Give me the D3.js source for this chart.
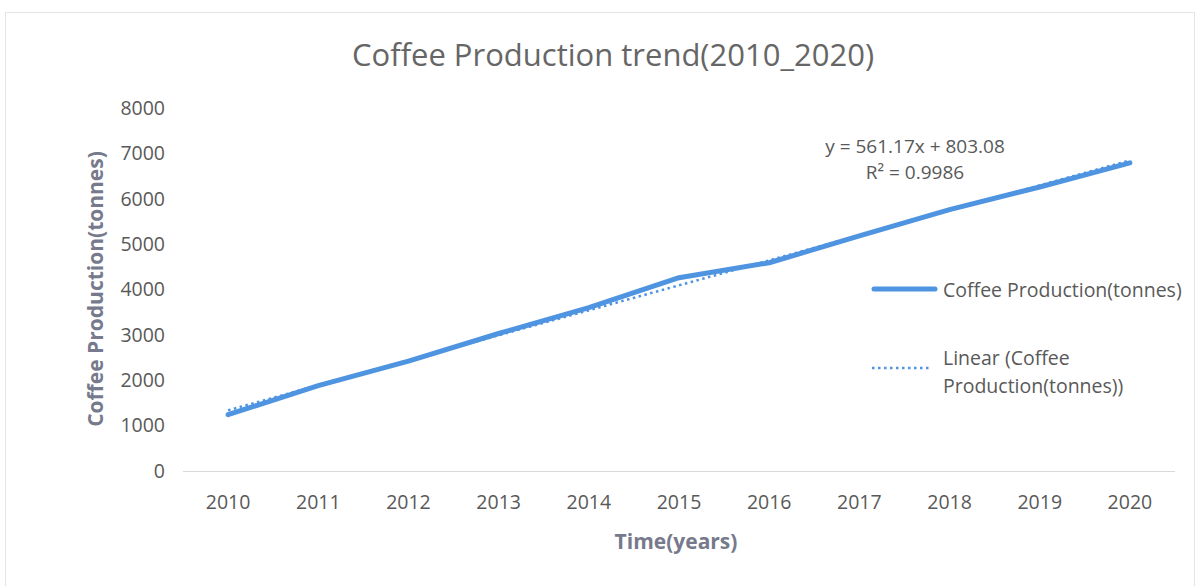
<!DOCTYPE html>
<meta charset="utf-8">
<style>
    body {
        margin: 0;
        background: #fff;
    }

    text {
        font-family: "Open Sans", "Noto Sans", sans-serif;
        fill: #595959;
    }

    .axis text {
        font-size: 19.5px;
    }

    .axis path,
    .axis line {
        fill: none;
        stroke: #d9d9d9;
        shape-rendering: crispEdges;
    }

    .axisTitle {
        font-weight: bold;
        font-size: 21px;
        fill: #767a8c;
    }
</style>
<svg class="chart"></svg>
<script src="https://cdn.jsdelivr.net/npm/d3@7"></script>
<script>

    // values
    const years = ["2010", "2011", "2012", "2013", "2014", "2015", "2016", "2017", "2018", "2019", "2020"];
    const production = [1240, 1880, 2420, 3030, 3600, 4260, 4590, 5180, 5760, 6260, 6790];
    const yTicks = [0, 1000, 2000, 3000, 4000, 5000, 6000, 7000, 8000];
    const equationText = "y = 561.17x + 803.08";
    const r2Text = "R² = 0.9986";
    const seriesName = "Coffee Production(tonnes)";
    const trendName = ["Linear (Coffee", "Production(tonnes))"];

    const W = 1200, H = 586;
    const margin = {top: 108, right: 25, bottom: 115, left: 183},
        width = W - margin.left - margin.right,
        height = H - margin.top - margin.bottom;

    const blue = "#4f94e0";

    const svg = d3.select(".chart")
        .attr("width", W)
        .attr("height", H);

    // chart area border (faint, as on the scan)
    svg.append("rect")
        .attr("x", 5.5).attr("y", 12.5)
        .attr("width", W - 11).attr("height", H - 8)
        .attr("fill", "none")
        .attr("stroke", "#e4e4e4");

    const chart = svg.append("g")
        .attr("transform", "translate(" + margin.left + "," + margin.top + ")");

    let x = d3.scaleBand()
        .domain(years)
        .range([0, width]);

    let y = d3.scaleLinear()
        .domain([0, 8000])
        .range([height, 0]);

    chart.append("g")
        .attr("class", "x axis")
        .attr("transform", "translate(0," + height + ")")
        .call(d3.axisBottom(x).tickSize(0).tickPadding(24))
        .call(g => g.select(".domain").attr("d", "M0,0.5H" + width));

    chart.append("g")
        .attr("class", "y axis")
        .call(d3.axisLeft(y).tickValues(yTicks).tickFormat(d3.format("d")).tickSize(0).tickPadding(18))
        .call(g => g.select(".domain").remove());

    const data = years.map((yr, i) => ({year: yr, value: production[i]}));

    // least-squares trendline over the series (x = 1..n), like the spreadsheet trendline
    const n = data.length;
    const mx = d3.mean(data, (d, i) => i + 1);
    const my = d3.mean(data, d => d.value);
    const slope = d3.sum(data, (d, i) => (i + 1 - mx) * (d.value - my)) /
        d3.sum(data, (d, i) => (i + 1 - mx) * (i + 1 - mx));
    const intercept = my - slope * mx;
    const trend = [data[0], data[n - 1]].map(d => ({
        year: d.year,
        value: intercept + slope * (years.indexOf(d.year) + 1)
    }));

    const line = d3.line()
        .x(d => x(d.year) + x.bandwidth() / 2)
        .y(d => y(d.value));

    chart.append("path")
        .datum(data)
        .attr("fill", "none")
        .attr("stroke", blue)
        .attr("stroke-width", 5)
        .attr("stroke-linejoin", "round")
        .attr("stroke-linecap", "round")
        .attr("d", line);

    chart.append("path")
        .datum(trend)
        .attr("fill", "none")
        .attr("stroke", blue)
        .attr("stroke-width", 2.5)
        .attr("stroke-dasharray", "2.5,3.5")
        .attr("d", line);

    // title
    svg.append("text")
        .attr("x", 613)
        .attr("y", 66)
        .attr("text-anchor", "middle")
        .style("font-size", "31px")
        .style("fill", "#666")
        .text("Coffee Production trend(2010_2020)");

    // axis titles
    svg.append("text")
        .attr("class", "axisTitle")
        .attr("text-anchor", "middle")
        .attr("transform", "translate(103,289) rotate(-90)")
        .text(seriesName);

    svg.append("text")
        .attr("class", "axisTitle")
        .attr("x", 676)
        .attr("y", 549)
        .attr("text-anchor", "middle")
        .text("Time(years)");

    // trendline label
    const eq = svg.append("text")
        .attr("text-anchor", "middle")
        .style("font-size", "19px");
    eq.append("tspan").attr("x", 915).attr("y", 153).text(equationText);
    eq.append("tspan").attr("x", 915).attr("y", 179).text(r2Text);

    // legend
    const legend = svg.append("g").attr("class", "legend");

    legend.append("line")
        .attr("x1", 874).attr("x2", 935)
        .attr("y1", 289).attr("y2", 289)
        .attr("stroke", blue)
        .attr("stroke-width", 5)
        .attr("stroke-linecap", "round");

    legend.append("text")
        .attr("x", 943).attr("y", 297)
        .style("font-size", "19.5px")
        .text(seriesName);

    legend.append("line")
        .attr("x1", 872).attr("x2", 932)
        .attr("y1", 368).attr("y2", 368)
        .attr("stroke", blue)
        .attr("stroke-width", 2.5)
        .attr("stroke-dasharray", "2.5,3.5");

    const lt = legend.append("text")
        .style("font-size", "19.5px");
    lt.append("tspan").attr("x", 943).attr("y", 365).text(trendName[0]);
    lt.append("tspan").attr("x", 943).attr("y", 393).text(trendName[1]);

</script>
